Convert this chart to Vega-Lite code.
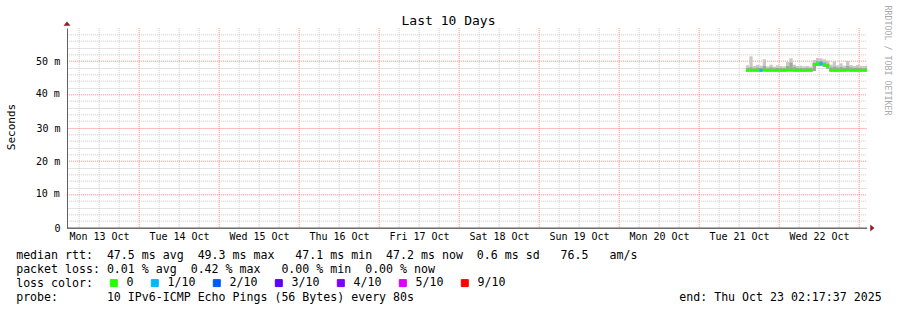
{
  "$schema": "https://vega.github.io/schema/vega-lite/v6.json",
  "width": 800,
  "height": 200,
  "autosize": "none",
  "padding": {"left": 67, "top": 28, "right": 30, "bottom": 82},
  "background": "white",
  "config": {"view": {"stroke": null}, "font": "DejaVu Sans Mono"},
  "datasets": {
    "d": [
      {"t": "2025-10-21T14:00:00Z", "t2": "2025-10-21T15:00:00Z", "med": 47.3, "lo": 47.0, "dk": 48.0, "hi": 48.8, "loss": "0"},
      {"t": "2025-10-21T15:00:00Z", "t2": "2025-10-21T16:00:00Z", "med": 47.3, "lo": 47.0, "dk": 48.2, "hi": 51.5, "loss": "0"},
      {"t": "2025-10-21T16:00:00Z", "t2": "2025-10-21T17:00:00Z", "med": 47.3, "lo": 47.0, "dk": 47.9, "hi": 48.6, "loss": "0"},
      {"t": "2025-10-21T17:00:00Z", "t2": "2025-10-21T18:00:00Z", "med": 47.3, "lo": 47.0, "dk": 48.1, "hi": 48.9, "loss": "0"},
      {"t": "2025-10-21T18:00:00Z", "t2": "2025-10-21T19:00:00Z", "med": 47.3, "lo": 47.0, "dk": 48.0, "hi": 48.7, "loss": "1/10"},
      {"t": "2025-10-21T19:00:00Z", "t2": "2025-10-21T20:00:00Z", "med": 47.4, "lo": 47.0, "dk": 48.6, "hi": 50.6, "loss": "0"},
      {"t": "2025-10-21T20:00:00Z", "t2": "2025-10-21T21:00:00Z", "med": 47.3, "lo": 47.0, "dk": 47.9, "hi": 48.5, "loss": "0"},
      {"t": "2025-10-21T21:00:00Z", "t2": "2025-10-21T22:00:00Z", "med": 47.3, "lo": 47.0, "dk": 48.2, "hi": 49.0, "loss": "0"},
      {"t": "2025-10-21T22:00:00Z", "t2": "2025-10-21T23:00:00Z", "med": 47.3, "lo": 47.0, "dk": 47.9, "hi": 48.4, "loss": "0"},
      {"t": "2025-10-21T23:00:00Z", "t2": "2025-10-22T00:00:00Z", "med": 47.3, "lo": 47.0, "dk": 48.0, "hi": 48.8, "loss": "0"},
      {"t": "2025-10-22T00:00:00Z", "t2": "2025-10-22T01:00:00Z", "med": 47.3, "lo": 47.0, "dk": 48.0, "hi": 48.6, "loss": "0"},
      {"t": "2025-10-22T01:00:00Z", "t2": "2025-10-22T02:00:00Z", "med": 47.3, "lo": 47.0, "dk": 47.9, "hi": 48.5, "loss": "0"},
      {"t": "2025-10-22T02:00:00Z", "t2": "2025-10-22T03:00:00Z", "med": 47.4, "lo": 47.0, "dk": 48.6, "hi": 49.8, "loss": "0"},
      {"t": "2025-10-22T03:00:00Z", "t2": "2025-10-22T04:00:00Z", "med": 47.4, "lo": 47.0, "dk": 49.6, "hi": 50.9, "loss": "0"},
      {"t": "2025-10-22T04:00:00Z", "t2": "2025-10-22T05:00:00Z", "med": 47.3, "lo": 47.0, "dk": 48.3, "hi": 49.0, "loss": "0"},
      {"t": "2025-10-22T05:00:00Z", "t2": "2025-10-22T06:00:00Z", "med": 47.3, "lo": 47.0, "dk": 48.0, "hi": 48.6, "loss": "0"},
      {"t": "2025-10-22T06:00:00Z", "t2": "2025-10-22T07:00:00Z", "med": 47.3, "lo": 47.0, "dk": 48.0, "hi": 48.7, "loss": "0"},
      {"t": "2025-10-22T07:00:00Z", "t2": "2025-10-22T08:00:00Z", "med": 47.3, "lo": 47.0, "dk": 47.9, "hi": 48.5, "loss": "0"},
      {"t": "2025-10-22T08:00:00Z", "t2": "2025-10-22T09:00:00Z", "med": 47.3, "lo": 47.0, "dk": 48.0, "hi": 48.6, "loss": "0"},
      {"t": "2025-10-22T09:00:00Z", "t2": "2025-10-22T10:00:00Z", "med": 47.3, "lo": 47.0, "dk": 47.9, "hi": 48.4, "loss": "0"},
      {"t": "2025-10-22T10:00:00Z", "t2": "2025-10-22T11:00:00Z", "med": 49.0, "lo": 47.1, "dk": 49.6, "hi": 50.4, "loss": "0"},
      {"t": "2025-10-22T11:00:00Z", "t2": "2025-10-22T12:00:00Z", "med": 49.3, "lo": 48.6, "dk": 50.0, "hi": 51.0, "loss": "0"},
      {"t": "2025-10-22T12:00:00Z", "t2": "2025-10-22T13:00:00Z", "med": 49.3, "lo": 48.6, "dk": 50.1, "hi": 50.9, "loss": "1/10"},
      {"t": "2025-10-22T13:00:00Z", "t2": "2025-10-22T14:00:00Z", "med": 49.0, "lo": 48.3, "dk": 49.7, "hi": 50.6, "loss": "0"},
      {"t": "2025-10-22T14:00:00Z", "t2": "2025-10-22T15:00:00Z", "med": 48.6, "lo": 47.8, "dk": 49.3, "hi": 50.2, "loss": "0"},
      {"t": "2025-10-22T15:00:00Z", "t2": "2025-10-22T16:00:00Z", "med": 47.3, "lo": 47.0, "dk": 48.2, "hi": 49.0, "loss": "0"},
      {"t": "2025-10-22T16:00:00Z", "t2": "2025-10-22T17:00:00Z", "med": 47.3, "lo": 47.0, "dk": 48.4, "hi": 50.0, "loss": "0"},
      {"t": "2025-10-22T17:00:00Z", "t2": "2025-10-22T18:00:00Z", "med": 47.3, "lo": 47.0, "dk": 48.1, "hi": 48.8, "loss": "0"},
      {"t": "2025-10-22T18:00:00Z", "t2": "2025-10-22T19:00:00Z", "med": 47.3, "lo": 47.0, "dk": 48.3, "hi": 49.4, "loss": "0"},
      {"t": "2025-10-22T19:00:00Z", "t2": "2025-10-22T20:00:00Z", "med": 47.3, "lo": 47.0, "dk": 48.0, "hi": 48.7, "loss": "0"},
      {"t": "2025-10-22T20:00:00Z", "t2": "2025-10-22T21:00:00Z", "med": 47.4, "lo": 47.0, "dk": 48.6, "hi": 50.1, "loss": "0"},
      {"t": "2025-10-22T21:00:00Z", "t2": "2025-10-22T22:00:00Z", "med": 47.3, "lo": 47.0, "dk": 48.2, "hi": 48.9, "loss": "0"},
      {"t": "2025-10-22T22:00:00Z", "t2": "2025-10-22T23:00:00Z", "med": 47.3, "lo": 47.0, "dk": 48.0, "hi": 48.6, "loss": "0"},
      {"t": "2025-10-22T23:00:00Z", "t2": "2025-10-23T00:00:00Z", "med": 47.3, "lo": 47.0, "dk": 48.1, "hi": 48.9, "loss": "0"},
      {"t": "2025-10-23T00:00:00Z", "t2": "2025-10-23T01:00:00Z", "med": 47.3, "lo": 47.0, "dk": 48.0, "hi": 48.7, "loss": "0"},
      {"t": "2025-10-23T01:00:00Z", "t2": "2025-10-23T02:00:00Z", "med": 47.3, "lo": 47.0, "dk": 47.9, "hi": 48.6, "loss": "0"},
      {"t": "2025-10-23T02:00:00Z", "t2": "2025-10-23T02:17:37Z", "med": 47.3, "lo": 47.0, "dk": 48.0, "hi": 48.8, "loss": "0"}
    ]
  },
  "layer": [
    {
      "data": {"name": "d"},
      "mark": {"type": "rect", "color": "#c8c8c8"},
      "encoding": {
        "x": {
          "field": "t", "type": "temporal",
          "scale": {"type": "utc", "domain": [1760321857000, 1761185857000], "nice": false},
          "axis": {
            "orient": "bottom",
            "translate": 0.146,
            "values": [1760335200000, 1760356800000, 1760378400000, 1760400000000, 1760421600000, 1760443200000, 1760464800000, 1760486400000, 1760508000000, 1760529600000, 1760551200000, 1760572800000, 1760594400000, 1760616000000, 1760637600000, 1760659200000, 1760680800000, 1760702400000, 1760724000000, 1760745600000, 1760767200000, 1760788800000, 1760810400000, 1760832000000, 1760853600000, 1760875200000, 1760896800000, 1760918400000, 1760940000000, 1760961600000, 1760983200000, 1761004800000, 1761026400000, 1761048000000, 1761069600000, 1761091200000, 1761112800000, 1761134400000, 1761156000000, 1761177600000],
            "grid": true,
            "gridColor": {"condition": {"test": "utchours(datum.value) === 0", "value": "#ff8080"}, "value": "#c8c8c8"},
            "gridDash": [1, 1],
            "ticks": false,
            "domainColor": "#202020",
            "labelExpr": "utchours(datum.value) === 12 ? utcFormat(datum.value, '%a %d %b') : ''",
            "labelFont": "DejaVu Sans Mono", "labelFontSize": 10, "labelColor": "#000000",
            "labelPadding": 4, "labelOverlap": false, "labelFlush": false, "labelBound": false,
            "title": [
              "median\u00a0rtt:\u00a0\u00a047.5\u00a0ms\u00a0avg\u00a0\u00a049.3\u00a0ms\u00a0max\u00a0\u00a0\u00a047.1\u00a0ms\u00a0min\u00a0\u00a047.2\u00a0ms\u00a0now\u00a0\u00a00.6\u00a0ms\u00a0sd\u00a0\u00a0\u00a076.5\u00a0\u00a0\u00a0am/s",
              "packet\u00a0loss:\u00a00.01\u00a0%\u00a0avg\u00a0\u00a00.42\u00a0%\u00a0max\u00a0\u00a0\u00a00.00\u00a0%\u00a0min\u00a0\u00a00.00\u00a0%\u00a0now",
              "loss\u00a0color:",
              "probe:\u00a0\u00a0\u00a0\u00a0\u00a0\u00a0\u00a010\u00a0IPv6-ICMP\u00a0Echo\u00a0Pings\u00a0(56\u00a0Bytes)\u00a0every\u00a080s\u00a0\u00a0\u00a0\u00a0\u00a0\u00a0\u00a0\u00a0\u00a0\u00a0\u00a0\u00a0\u00a0\u00a0\u00a0\u00a0\u00a0\u00a0\u00a0\u00a0\u00a0\u00a0\u00a0\u00a0\u00a0\u00a0\u00a0\u00a0\u00a0\u00a0\u00a0\u00a0\u00a0\u00a0\u00a0\u00a0\u00a0\u00a0end:\u00a0Thu\u00a0Oct\u00a023\u00a002:17:37\u00a02025"
            ],
            "titleFont": "DejaVu Sans Mono", "titleFontSize": 11.6, "titleFontWeight": "normal", "titleColor": "#000000",
            "titleX": -51, "titleY": 31, "titleAlign": "left", "titleAnchor": "start", "titleBaseline": "alphabetic", "titleLineHeight": 14, "titleAngle": 0
          }
        },
        "x2": {"field": "t2"},
        "y": {
          "field": "lo", "type": "quantitative",
          "scale": {"domain": [0, 60], "nice": false},
          "axis": {
            "orient": "left",
            "translate": 0.5,
            "values": [0, 6, 12, 18, 24, 30, 36, 42, 48, 54],
            "grid": true,
            "gridColor": {"condition": {"test": "datum.value % 10 === 0", "value": "#ff8080"}, "value": "#c8c8c8"},
            "gridOpacity": {"condition": {"test": "datum.value === 0", "value": 0}, "value": 1},
            "gridDash": [1, 1],
            "ticks": false,
            "domainColor": "#606060",
            "labelExpr": "datum.value % 10 === 0 ? (datum.value === 0 ? '0' : datum.value + ' m') : ''",
            "labelFont": "DejaVu Sans Mono", "labelFontSize": 10, "labelColor": "#000000", "labelPadding": 7,
            "title": "Seconds",
            "titleFont": "DejaVu Sans Mono", "titleFontSize": 11, "titleFontWeight": "normal", "titleColor": "#000000",
            "titleX": -56, "titleY": 98.5, "titleAngle": -90, "titleAlign": "center", "titleBaseline": "middle"
          }
        },
        "y2": {"field": "hi"}
      }
    },
    {
      "data": {"name": "d"},
      "mark": {"type": "rect", "color": "#a4a4a4"},
      "encoding": {
        "x": {"field": "t", "type": "temporal", "scale": {"type": "utc", "domain": [1760321857000, 1761185857000], "nice": false}, "axis": null},
        "x2": {"field": "t2"},
        "y": {
          "field": "lo", "type": "quantitative", "scale": {"domain": [0, 60], "nice": false},
          "axis": {
            "orient": "left", "translate": -0.167,
            "values": [4, 10, 16, 22, 28, 34, 40, 46, 52, 58],
            "grid": true,
            "gridColor": {"condition": {"test": "datum.value % 10 === 0", "value": "#ff8080"}, "value": "#c8c8c8"},
            "gridDash": [1, 1],
            "ticks": false, "domain": false, "title": null,
            "labelExpr": "datum.value % 10 === 0 ? datum.value + ' m' : ''",
            "labelFont": "DejaVu Sans Mono", "labelFontSize": 10, "labelColor": "#000000", "labelPadding": 7
          }
        },
        "y2": {"field": "dk"}
      }
    },
    {
      "data": {"name": "d"},
      "mark": {"type": "rule", "strokeWidth": 3, "strokeCap": "butt"},
      "encoding": {
        "x": {"field": "t", "type": "temporal", "scale": {"type": "utc", "domain": [1760321857000, 1761185857000], "nice": false}, "axis": null},
        "x2": {"field": "t2"},
        "y": {
          "field": "med", "type": "quantitative", "scale": {"domain": [0, 60], "nice": false},
          "axis": {
            "orient": "left", "translate": 0.167,
            "values": [2, 8, 14, 20, 26, 32, 38, 44, 50, 56],
            "grid": true,
            "gridColor": {"condition": {"test": "datum.value % 10 === 0", "value": "#ff8080"}, "value": "#c8c8c8"},
            "gridDash": [1, 1],
            "ticks": false, "domain": false, "title": null,
            "labelExpr": "datum.value % 10 === 0 ? datum.value + ' m' : ''",
            "labelFont": "DejaVu Sans Mono", "labelFontSize": 10, "labelColor": "#000000", "labelPadding": 7
          }
        },
        "color": {
          "field": "loss", "type": "nominal",
          "scale": {"domain": ["0", "1/10", "2/10", "3/10", "4/10", "5/10", "9/10"], "range": ["#26ff00", "#00b8ff", "#0059ff", "#5e00ff", "#7e00ff", "#dd00ff", "#ff0000"]},
          "legend": {
            "orient": "none", "legendX": 41, "legendY": 249, "direction": "horizontal", "columns": 7,
            "title": null,
            "symbolType": "square", "symbolSize": 49, "symbolStrokeColor": "#000000", "symbolStrokeWidth": 1, "symbolOpacity": 1,
            "labelFont": "DejaVu Sans Mono", "labelFontSize": 11.6, "labelColor": "#000000", "labelOffset": 7, "labelLimit": 200,
            "columnPadding": 15, "padding": 0,
            "encode": {"symbols": {"update": {"fill": {"scale": "color", "field": "value"}, "stroke": {"value": "#000000"}, "strokeWidth": {"value": 1}, "opacity": {"value": 1}}}}
          }
        }
      }
    },
    {
      "data": {"values": [{}]},
      "mark": {"type": "point", "shape": "M-1,0.6L1,0.6L0,-0.6Z", "filled": true, "color": "#902020", "size": 49, "opacity": 1},
      "encoding": {
        "x": {
          "datum": 1760321857000, "type": "temporal",
          "scale": {"type": "utc", "domain": [1760321857000, 1761185857000], "nice": false},
          "axis": {
            "orient": "top", "title": "Last 10 Days", "labels": false, "ticks": false, "domain": false, "grid": false,
            "titleFont": "DejaVu Sans Mono", "titleFontSize": 13, "titleFontWeight": "normal", "titleColor": "#000000",
            "titleX": 381, "titleY": -4, "titleAlign": "center", "titleBaseline": "alphabetic"
          }
        },
        "y": {"datum": 61.3, "type": "quantitative", "scale": {"domain": [0, 60], "nice": false}, "axis": null}
      }
    },
    {
      "data": {"values": [{}]},
      "mark": {"type": "point", "shape": "M-0.6,-1L-0.6,1L0.6,0Z", "filled": true, "color": "#902020", "size": 49, "opacity": 1},
      "encoding": {
        "x": {"datum": 1761191617000, "type": "temporal", "scale": {"type": "utc", "domain": [1760321857000, 1761185857000], "nice": false}, "axis": null},
        "y": {
          "datum": 0, "type": "quantitative", "scale": {"domain": [0, 60], "nice": false},
          "axis": {
            "orient": "right", "title": "RRDTOOL / TOBI OETIKER", "labels": false, "ticks": false, "domain": false, "grid": false,
            "titleFont": "DejaVu Sans Mono", "titleFontSize": 8.3, "titleFontWeight": "normal", "titleColor": "#aaaaaa",
            "titleAngle": 90, "titleX": 19, "titleY": -23, "titleAlign": "left", "titleBaseline": "middle"
          }
        }
      }
    }
  ],
  "resolve": {"axis": {"x": "independent", "y": "independent"}}
}
